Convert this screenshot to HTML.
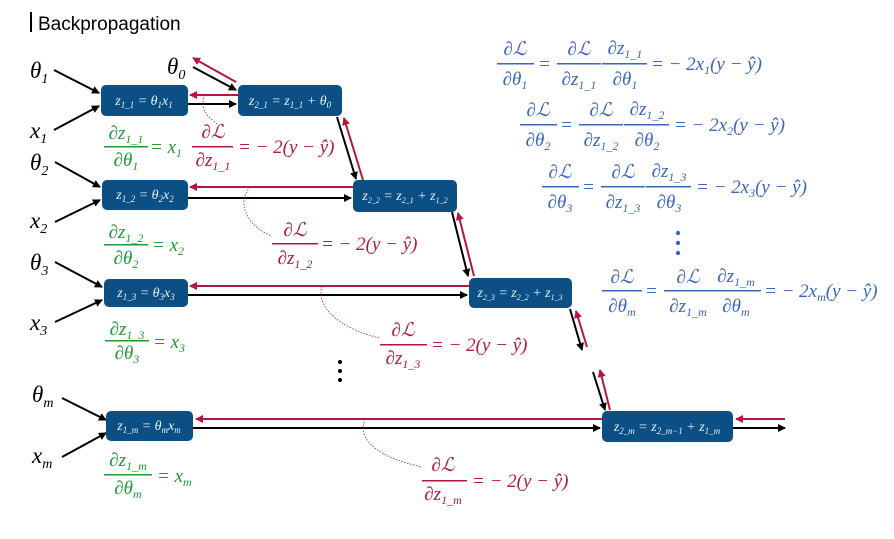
<!DOCTYPE html>
<html><head><meta charset="utf-8"><style>
body{margin:0;background:#fff}
svg{display:block}
.m{font-family:"Liberation Serif",serif;font-style:italic}
.bx{fill:#0b4f84}
.bt{fill:#e8f0f8;font-family:"Liberation Serif",serif;font-style:italic;font-size:14px}
.g{fill:#1e9a35}.r{fill:#b3173f}.b{fill:#3a66bd}
</style></head><body>
<svg width="894" height="539" viewBox="0 0 894 539" xmlns="http://www.w3.org/2000/svg">
<defs>
<marker id="ak" markerWidth="8" markerHeight="8" refX="7" refY="4" orient="auto" markerUnits="userSpaceOnUse"><path d="M0,0 L8,4 L0,8 z" fill="#000"/></marker>
<marker id="ar" markerWidth="8" markerHeight="8" refX="7" refY="4" orient="auto" markerUnits="userSpaceOnUse"><path d="M0,0 L8,4 L0,8 z" fill="#b3173f"/></marker>
</defs>
<rect x="30" y="12" width="2" height="20" fill="#000"/>
<text x="38" y="30" font-family="Liberation Sans,sans-serif" font-size="19">Backpropagation</text>

<g class="m" font-size="23">
<text x="30" y="78">θ<tspan font-size="14" dy="5">1</tspan></text>
<text x="30" y="138">x<tspan font-size="14" dy="5">1</tspan></text>
<text x="30" y="170">θ<tspan font-size="14" dy="5">2</tspan></text>
<text x="30" y="228">x<tspan font-size="14" dy="5">2</tspan></text>
<text x="30" y="270">θ<tspan font-size="14" dy="5">3</tspan></text>
<text x="30" y="330">x<tspan font-size="14" dy="5">3</tspan></text>
<text x="32" y="402">θ<tspan font-size="14" dy="5">m</tspan></text>
<text x="32" y="463">x<tspan font-size="14" dy="5">m</tspan></text>
<text x="167" y="74">θ<tspan font-size="14" dy="5">0</tspan></text>
</g>

<g stroke="#000" stroke-width="2" marker-end="url(#ak)">
<line x1="54" y1="70" x2="99" y2="93"/><line x1="54" y1="130" x2="99" y2="106"/>
<line x1="55" y1="162" x2="100" y2="187"/><line x1="55" y1="222" x2="100" y2="200"/>
<line x1="55" y1="262" x2="102" y2="287"/><line x1="55" y1="322" x2="102" y2="300"/>
<line x1="62" y1="398" x2="106" y2="420"/><line x1="62" y1="457" x2="106" y2="433"/>
<line x1="193" y1="67" x2="236" y2="90"/>
<line x1="188" y1="104" x2="236" y2="104"/>
<line x1="337" y1="117" x2="356" y2="179"/>
<line x1="188" y1="198" x2="351" y2="198"/>
<line x1="452" y1="212" x2="468" y2="276"/>
<line x1="188" y1="295" x2="467" y2="295"/>
<line x1="570" y1="309" x2="582" y2="350"/>
<line x1="593" y1="372" x2="605" y2="410"/>
<line x1="193" y1="428" x2="600" y2="428"/>
<line x1="733" y1="428" x2="785" y2="428"/>
</g>
<g stroke="#b3173f" stroke-width="2" marker-end="url(#ar)">
<line x1="236" y1="82" x2="193" y2="58"/>
<line x1="238" y1="95" x2="190" y2="95"/>
<line x1="363" y1="180" x2="344" y2="118"/>
<line x1="353" y1="187" x2="190" y2="187"/>
<line x1="474" y1="276" x2="458" y2="213"/>
<line x1="469" y1="286" x2="190" y2="286"/>
<line x1="587" y1="347" x2="576" y2="311"/>
<line x1="610" y1="410" x2="600" y2="370"/>
<line x1="602" y1="419" x2="196" y2="419"/>
<line x1="785" y1="419" x2="736" y2="419"/>
</g>
<g fill="none" stroke="#b3173f" stroke-width="0.8" stroke-dasharray="1.5,1.5">
<path d="M205,95 C198,110 210,118 217,124"/>
<path d="M250,187 C235,205 250,228 272,236"/>
<path d="M322,286 C315,310 345,330 380,338"/>
<path d="M365,419 C355,445 390,460 422,467"/>
</g>

<g>
<rect class="bx" x="101" y="85" width="87" height="31" rx="5"/>
<text class="bt" x="144" y="105" text-anchor="middle">z<tspan font-size="9" dy="3">1_1</tspan><tspan dy="-3"> = θ</tspan><tspan font-size="9" dy="3">1</tspan><tspan dy="-3">x</tspan><tspan font-size="9" dy="3">1</tspan></text>
<rect class="bx" x="238" y="85" width="104" height="31" rx="5"/>
<text class="bt" x="290" y="105" text-anchor="middle">z<tspan font-size="9" dy="3">2_1</tspan><tspan dy="-3"> = z</tspan><tspan font-size="9" dy="3">1_1</tspan><tspan dy="-3"> + θ</tspan><tspan font-size="9" dy="3">0</tspan></text>
<rect class="bx" x="102" y="180" width="86" height="30" rx="5"/>
<text class="bt" x="145" y="199" text-anchor="middle">z<tspan font-size="9" dy="3">1_2</tspan><tspan dy="-3"> = θ</tspan><tspan font-size="9" dy="3">2</tspan><tspan dy="-3">x</tspan><tspan font-size="9" dy="3">2</tspan></text>
<rect class="bx" x="353" y="180" width="104" height="32" rx="5"/>
<text class="bt" x="405" y="200" text-anchor="middle" font-size="13">z<tspan font-size="8" dy="3">2_2</tspan><tspan dy="-3"> = z</tspan><tspan font-size="8" dy="3">2_1</tspan><tspan dy="-3"> + z</tspan><tspan font-size="8" dy="3">1_2</tspan></text>
<rect class="bx" x="104" y="279" width="84" height="28" rx="5"/>
<text class="bt" x="146" y="297" text-anchor="middle">z<tspan font-size="9" dy="3">1_3</tspan><tspan dy="-3"> = θ</tspan><tspan font-size="9" dy="3">3</tspan><tspan dy="-3">x</tspan><tspan font-size="9" dy="3">3</tspan></text>
<rect class="bx" x="469" y="278" width="103" height="30" rx="5"/>
<text class="bt" x="520" y="297" text-anchor="middle" font-size="13">z<tspan font-size="8" dy="3">2_3</tspan><tspan dy="-3"> = z</tspan><tspan font-size="8" dy="3">2_2</tspan><tspan dy="-3"> + z</tspan><tspan font-size="8" dy="3">1_3</tspan></text>
<rect class="bx" x="106" y="411" width="87" height="30" rx="5"/>
<text class="bt" x="149" y="430" text-anchor="middle">z<tspan font-size="9" dy="3">1_m</tspan><tspan dy="-3"> = θ</tspan><tspan font-size="9" dy="3">m</tspan><tspan dy="-3">x</tspan><tspan font-size="9" dy="3">m</tspan></text>
<rect class="bx" x="602" y="411" width="131" height="31" rx="5"/>
<text class="bt" x="667" y="431" text-anchor="middle">z<tspan font-size="9" dy="3">2_m</tspan><tspan dy="-3"> = z</tspan><tspan font-size="9" dy="3">2_m−1</tspan><tspan dy="-3"> + z</tspan><tspan font-size="9" dy="3">1_m</tspan></text>
</g>

<!-- green -->
<g class="m g" font-size="19">
<text x="126" y="139" text-anchor="middle">∂z<tspan font-size="12" dy="4">1_1</tspan></text>
<rect x="104" y="146" width="44" height="1.5"/>
<text x="126" y="166" text-anchor="middle">∂θ<tspan font-size="12" dy="4">1</tspan></text>
<text x="150" y="153">= x<tspan font-size="12" dy="4">1</tspan></text>
<text x="126" y="238" text-anchor="middle">∂z<tspan font-size="12" dy="4">1_2</tspan></text>
<rect x="104" y="244" width="44" height="1.5"/>
<text x="126" y="264" text-anchor="middle">∂θ<tspan font-size="12" dy="4">2</tspan></text>
<text x="152" y="251">= x<tspan font-size="12" dy="4">2</tspan></text>
<text x="127" y="335" text-anchor="middle">∂z<tspan font-size="12" dy="4">1_3</tspan></text>
<rect x="105" y="340" width="44" height="1.5"/>
<text x="127" y="359" text-anchor="middle">∂θ<tspan font-size="12" dy="4">3</tspan></text>
<text x="153" y="348">= x<tspan font-size="12" dy="4">3</tspan></text>
<text x="128" y="466" text-anchor="middle">∂z<tspan font-size="12" dy="4">1_m</tspan></text>
<rect x="104" y="474" width="48" height="1.5"/>
<text x="128" y="494" text-anchor="middle">∂θ<tspan font-size="12" dy="4">m</tspan></text>
<text x="157" y="482">= x<tspan font-size="12" dy="4">m</tspan></text>
</g>
<!-- red -->
<g class="m r" font-size="19">
<text x="213" y="138" text-anchor="middle">∂ℒ</text>
<rect x="192" y="146" width="41" height="1.5"/>
<text x="213" y="166" text-anchor="middle">∂z<tspan font-size="12" dy="4">1_1</tspan></text>
<text x="238" y="153">= − 2(y − ŷ)</text>
<text x="295" y="236" text-anchor="middle">∂ℒ</text>
<rect x="272" y="243" width="46" height="1.5"/>
<text x="295" y="264" text-anchor="middle">∂z<tspan font-size="12" dy="4">1_2</tspan></text>
<text x="321" y="250">= − 2(y − ŷ)</text>
<text x="403" y="336" text-anchor="middle">∂ℒ</text>
<rect x="380" y="344" width="47" height="1.5"/>
<text x="403" y="364" text-anchor="middle">∂z<tspan font-size="12" dy="4">1_3</tspan></text>
<text x="431" y="351">= − 2(y − ŷ)</text>
<text x="443" y="471" text-anchor="middle">∂ℒ</text>
<rect x="422" y="480" width="45" height="1.5"/>
<text x="443" y="500" text-anchor="middle">∂z<tspan font-size="12" dy="4">1_m</tspan></text>
<text x="472" y="487">= − 2(y − ŷ)</text>
</g>
<g fill="#000"><circle cx="340" cy="362" r="2"/><circle cx="340" cy="371" r="2"/><circle cx="340" cy="380" r="2"/></g>

<!-- blue -->
<g class="m b" font-size="19">
<text x="515" y="55" text-anchor="middle">∂ℒ</text><rect x="497" y="63" width="37" height="1.5"/>
<text x="515" y="85" text-anchor="middle">∂θ<tspan font-size="12" dy="4">1</tspan></text>
<text x="538" y="70">=</text>
<text x="579" y="55" text-anchor="middle">∂ℒ</text><rect x="557" y="63" width="44" height="1.5"/>
<text x="579" y="85" text-anchor="middle">∂z<tspan font-size="12" dy="4">1_1</tspan></text>
<text x="625" y="54" text-anchor="middle">∂z<tspan font-size="12" dy="4">1_1</tspan></text><rect x="602" y="63" width="45" height="1.5"/>
<text x="625" y="85" text-anchor="middle">∂θ<tspan font-size="12" dy="4">1</tspan></text>
<text x="651" y="70">= − 2x<tspan font-size="12" dy="4">1</tspan><tspan dy="-4">(y − ŷ)</tspan></text>

<text x="538" y="116" text-anchor="middle">∂ℒ</text><rect x="520" y="124" width="37" height="1.5"/>
<text x="538" y="146" text-anchor="middle">∂θ<tspan font-size="12" dy="4">2</tspan></text>
<text x="560" y="131">=</text>
<text x="601" y="116" text-anchor="middle">∂ℒ</text><rect x="579" y="124" width="44" height="1.5"/>
<text x="601" y="146" text-anchor="middle">∂z<tspan font-size="12" dy="4">1_2</tspan></text>
<text x="647" y="115" text-anchor="middle">∂z<tspan font-size="12" dy="4">1_2</tspan></text><rect x="624" y="124" width="45" height="1.5"/>
<text x="647" y="146" text-anchor="middle">∂θ<tspan font-size="12" dy="4">2</tspan></text>
<text x="674" y="131">= − 2x<tspan font-size="12" dy="4">2</tspan><tspan dy="-4">(y − ŷ)</tspan></text>

<text x="560" y="178" text-anchor="middle">∂ℒ</text><rect x="542" y="186" width="37" height="1.5"/>
<text x="560" y="208" text-anchor="middle">∂θ<tspan font-size="12" dy="4">3</tspan></text>
<text x="582" y="193">=</text>
<text x="623" y="178" text-anchor="middle">∂ℒ</text><rect x="601" y="186" width="44" height="1.5"/>
<text x="623" y="208" text-anchor="middle">∂z<tspan font-size="12" dy="4">1_3</tspan></text>
<text x="669" y="177" text-anchor="middle">∂z<tspan font-size="12" dy="4">1_3</tspan></text><rect x="646" y="186" width="45" height="1.5"/>
<text x="669" y="208" text-anchor="middle">∂θ<tspan font-size="12" dy="4">3</tspan></text>
<text x="696" y="193">= − 2x<tspan font-size="12" dy="4">3</tspan><tspan dy="-4">(y − ŷ)</tspan></text>

<text x="622" y="283" text-anchor="middle">∂ℒ</text><rect x="602" y="290" width="40" height="1.5"/>
<text x="622" y="312" text-anchor="middle">∂θ<tspan font-size="12" dy="4">m</tspan></text>
<text x="645" y="297">=</text>
<text x="688" y="283" text-anchor="middle">∂ℒ</text><rect x="664" y="290" width="47" height="1.5"/>
<text x="688" y="312" text-anchor="middle">∂z<tspan font-size="12" dy="4">1_m</tspan></text>
<text x="736" y="282" text-anchor="middle">∂z<tspan font-size="12" dy="4">1_m</tspan></text><rect x="711" y="290" width="50" height="1.5"/>
<text x="736" y="312" text-anchor="middle">∂θ<tspan font-size="12" dy="4">m</tspan></text>
<text x="764" y="297">= − 2x<tspan font-size="12" dy="4">m</tspan><tspan dy="-4">(y − ŷ)</tspan></text>
</g>
<g fill="#3a66bd"><circle cx="678" cy="233" r="2.2"/><circle cx="678" cy="243" r="2.2"/><circle cx="678" cy="253" r="2.2"/></g>
</svg>
</body></html>
